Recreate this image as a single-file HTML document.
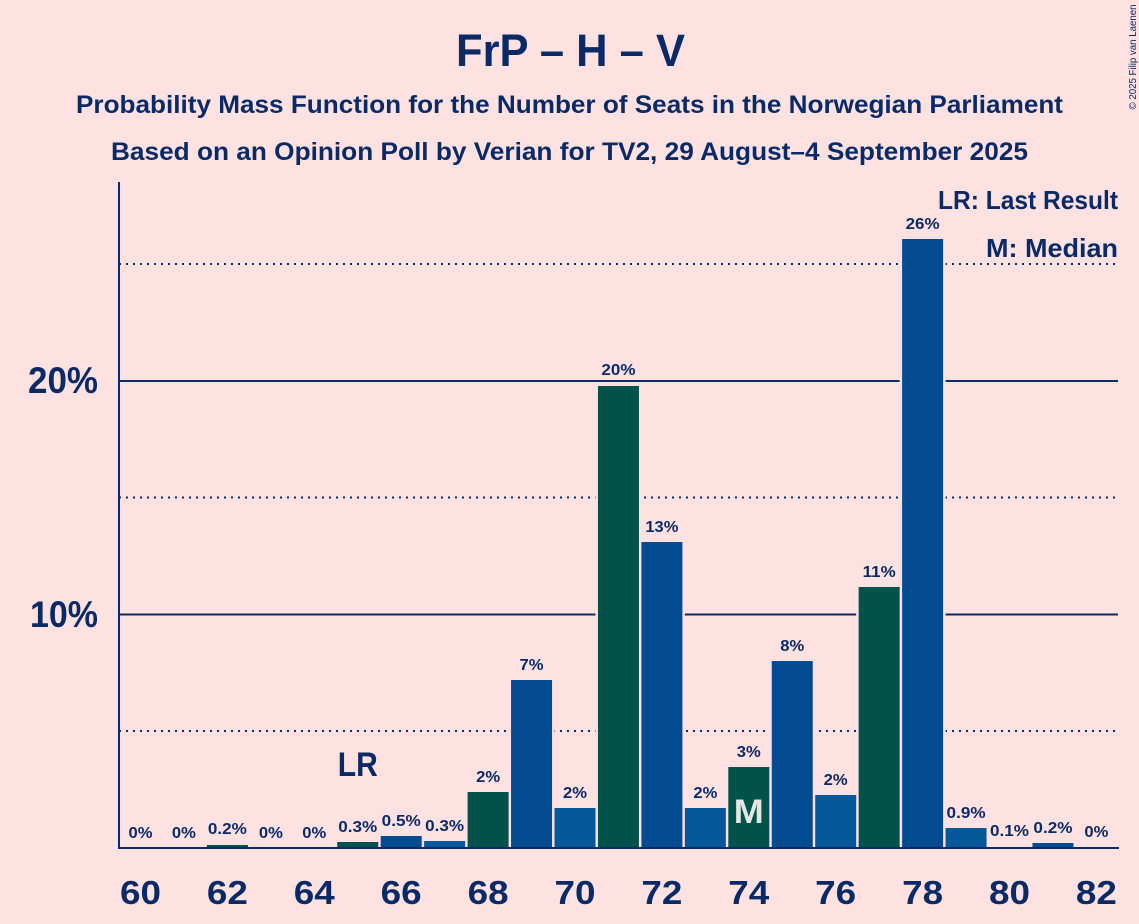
<!DOCTYPE html>
<html>
<head>
<meta charset="utf-8">
<style>
html,body{margin:0;padding:0;background:#fee2e2;}
svg{display:block;}
text{font-family:"Liberation Sans",sans-serif;font-weight:bold;fill:#0a2a66;}
</style>
</head>
<body>
<svg width="1139" height="924" viewBox="0 0 1139 924" xmlns="http://www.w3.org/2000/svg">
<rect x="0" y="0" width="1139" height="924" fill="#fee2e2"/>

<!-- titles -->
<text x="456" y="66" font-size="45" textLength="229" lengthAdjust="spacingAndGlyphs">FrP – H – V</text>
<text x="76" y="113" font-size="25" textLength="987" lengthAdjust="spacingAndGlyphs">Probability Mass Function for the Number of Seats in the Norwegian Parliament</text>
<text x="111" y="160" font-size="25" textLength="917" lengthAdjust="spacingAndGlyphs">Based on an Opinion Poll by Verian for TV2, 29 August–4 September 2025</text>
<text transform="translate(1136,57) rotate(-90)" text-anchor="middle" font-size="10" font-weight="normal" textLength="105" lengthAdjust="spacingAndGlyphs" style="font-weight:normal">© 2025 Filip van Laenen</text>

<!-- gridlines -->
<g stroke="#0a2a66">
<line x1="119" y1="264" x2="1118" y2="264" stroke-width="2" stroke-dasharray="2 5"/>
<line x1="119" y1="497.5" x2="1118" y2="497.5" stroke-width="2" stroke-dasharray="2 5"/>
<line x1="119" y1="731" x2="1118" y2="731" stroke-width="2" stroke-dasharray="2 5"/>
<line x1="119" y1="381" x2="1118" y2="381" stroke-width="2"/>
<line x1="119" y1="614.5" x2="1118" y2="614.5" stroke-width="2"/>
</g>

<!-- bar outlines (background-colored gaps) -->
<g fill="#fee2e2" stroke="#fee2e2" stroke-width="5">
<rect x="206.9" y="845" width="41" height="3"/>
<rect x="337.25" y="842" width="41" height="6"/>
<rect x="380.7" y="836" width="41" height="12"/>
<rect x="424.15" y="841" width="41" height="7"/>
<rect x="467.6" y="792" width="41" height="56"/>
<rect x="511.05" y="680" width="41" height="168"/>
<rect x="554.5" y="808" width="41" height="40"/>
<rect x="597.95" y="386" width="41" height="462"/>
<rect x="641.4" y="542" width="41" height="306"/>
<rect x="684.85" y="808" width="41" height="40"/>
<rect x="728.3" y="767" width="41" height="81"/>
<rect x="771.75" y="661" width="41" height="187"/>
<rect x="815.2" y="795" width="41" height="53"/>
<rect x="858.65" y="587" width="41" height="261"/>
<rect x="902.1" y="239" width="41" height="609"/>
<rect x="945.55" y="828" width="41" height="20"/>
<rect x="989" y="847" width="41" height="1"/>
<rect x="1032.45" y="843" width="41" height="5"/>
</g>

<!-- bars -->
<rect x="206.9" y="845" width="41" height="3" fill="#00524a"/>
<rect x="337.25" y="842" width="41" height="6" fill="#00524a"/>
<rect x="380.7" y="836" width="41" height="12" fill="#034b90"/>
<rect x="424.15" y="841" width="41" height="7" fill="#07589a"/>
<rect x="467.6" y="792" width="41" height="56" fill="#00524a"/>
<rect x="511.05" y="680" width="41" height="168" fill="#034b90"/>
<rect x="554.5" y="808" width="41" height="40" fill="#07589a"/>
<rect x="597.95" y="386" width="41" height="462" fill="#00524a"/>
<rect x="641.4" y="542" width="41" height="306" fill="#034b90"/>
<rect x="684.85" y="808" width="41" height="40" fill="#07589a"/>
<rect x="728.3" y="767" width="41" height="81" fill="#00524a"/>
<rect x="771.75" y="661" width="41" height="187" fill="#034b90"/>
<rect x="815.2" y="795" width="41" height="53" fill="#07589a"/>
<rect x="858.65" y="587" width="41" height="261" fill="#00524a"/>
<rect x="902.1" y="239" width="41" height="609" fill="#034b90"/>
<rect x="945.55" y="828" width="41" height="20" fill="#07589a"/>
<rect x="989" y="847" width="41" height="1" fill="#00524a"/>
<rect x="1032.45" y="843" width="41" height="5" fill="#034b90"/>

<!-- axes -->
<line x1="119" y1="182" x2="119" y2="849" stroke="#0a2a66" stroke-width="2"/>
<line x1="118" y1="848" x2="1119" y2="848" stroke="#0a2a66" stroke-width="2"/>

<!-- y labels -->
<text x="98" y="393" font-size="37" text-anchor="end" textLength="70" lengthAdjust="spacingAndGlyphs">20%</text>
<text x="98" y="627" font-size="37" text-anchor="end" textLength="68" lengthAdjust="spacingAndGlyphs">10%</text>

<!-- x labels -->
<g font-size="33" text-anchor="middle">
<text x="140.5" y="904" textLength="41" lengthAdjust="spacingAndGlyphs">60</text>
<text x="227.4" y="904" textLength="41" lengthAdjust="spacingAndGlyphs">62</text>
<text x="314.3" y="904" textLength="41" lengthAdjust="spacingAndGlyphs">64</text>
<text x="401.2" y="904" textLength="41" lengthAdjust="spacingAndGlyphs">66</text>
<text x="488.1" y="904" textLength="41" lengthAdjust="spacingAndGlyphs">68</text>
<text x="575.0" y="904" textLength="41" lengthAdjust="spacingAndGlyphs">70</text>
<text x="661.9" y="904" textLength="41" lengthAdjust="spacingAndGlyphs">72</text>
<text x="748.8" y="904" textLength="41" lengthAdjust="spacingAndGlyphs">74</text>
<text x="835.7" y="904" textLength="41" lengthAdjust="spacingAndGlyphs">76</text>
<text x="922.6" y="904" textLength="41" lengthAdjust="spacingAndGlyphs">78</text>
<text x="1009.5" y="904" textLength="41" lengthAdjust="spacingAndGlyphs">80</text>
<text x="1096.4" y="904" textLength="41" lengthAdjust="spacingAndGlyphs">82</text>
</g>

<!-- value labels -->
<g font-size="16" text-anchor="middle">
<text x="140.5" y="838" textLength="24" lengthAdjust="spacingAndGlyphs">0%</text>
<text x="183.95" y="838" textLength="24" lengthAdjust="spacingAndGlyphs">0%</text>
<text x="227.4" y="834" textLength="39" lengthAdjust="spacingAndGlyphs">0.2%</text>
<text x="270.85" y="838" textLength="24" lengthAdjust="spacingAndGlyphs">0%</text>
<text x="314.3" y="838" textLength="24" lengthAdjust="spacingAndGlyphs">0%</text>
<text x="357.75" y="832" textLength="39" lengthAdjust="spacingAndGlyphs">0.3%</text>
<text x="401.2" y="826" textLength="39" lengthAdjust="spacingAndGlyphs">0.5%</text>
<text x="444.65" y="831" textLength="39" lengthAdjust="spacingAndGlyphs">0.3%</text>
<text x="488.1" y="782" textLength="24" lengthAdjust="spacingAndGlyphs">2%</text>
<text x="531.55" y="670" textLength="24" lengthAdjust="spacingAndGlyphs">7%</text>
<text x="575.0" y="798" textLength="24" lengthAdjust="spacingAndGlyphs">2%</text>
<text x="618.45" y="375" textLength="34" lengthAdjust="spacingAndGlyphs">20%</text>
<text x="661.9" y="532" textLength="33" lengthAdjust="spacingAndGlyphs">13%</text>
<text x="705.35" y="798" textLength="24" lengthAdjust="spacingAndGlyphs">2%</text>
<text x="748.8" y="757" textLength="24" lengthAdjust="spacingAndGlyphs">3%</text>
<text x="792.25" y="651" textLength="24" lengthAdjust="spacingAndGlyphs">8%</text>
<text x="835.7" y="785" textLength="24" lengthAdjust="spacingAndGlyphs">2%</text>
<text x="879.15" y="577" textLength="33" lengthAdjust="spacingAndGlyphs">11%</text>
<text x="922.6" y="229" textLength="34" lengthAdjust="spacingAndGlyphs">26%</text>
<text x="966.05" y="818" textLength="39" lengthAdjust="spacingAndGlyphs">0.9%</text>
<text x="1009.5" y="836" textLength="39" lengthAdjust="spacingAndGlyphs">0.1%</text>
<text x="1052.95" y="833" textLength="39" lengthAdjust="spacingAndGlyphs">0.2%</text>
<text x="1096.4" y="837" textLength="24" lengthAdjust="spacingAndGlyphs">0%</text>
</g>

<!-- LR and M markers -->
<text x="357.75" y="776" font-size="34" text-anchor="middle" textLength="40" lengthAdjust="spacingAndGlyphs">LR</text>
<text x="748.8" y="823" font-size="34" text-anchor="middle" textLength="30" lengthAdjust="spacingAndGlyphs" style="fill:#e4e6e2">M</text>

<!-- legend -->
<text x="1118" y="209" font-size="26" text-anchor="end" textLength="180" lengthAdjust="spacingAndGlyphs">LR: Last Result</text>
<text x="1118" y="257" font-size="26" text-anchor="end" textLength="132" lengthAdjust="spacingAndGlyphs">M: Median</text>
</svg>
</body>
</html>
